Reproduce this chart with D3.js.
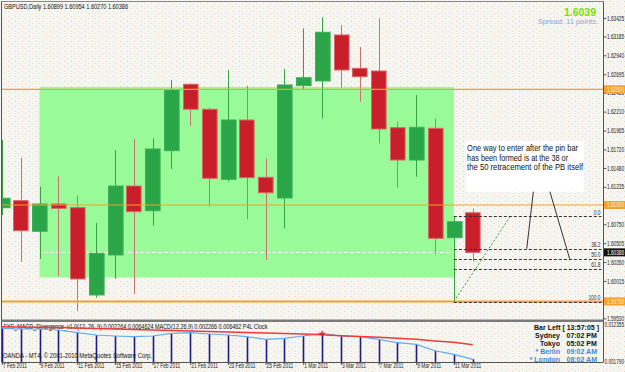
<!DOCTYPE html>
<html>
<head>
<meta charset="utf-8">
<script src="https://cdn.jsdelivr.net/npm/d3@7"></script>
<style>
body { margin: 0; background: #fff; }
svg { display: block; font-family: "Liberation Sans", Arial, sans-serif; }
</style>
</head>
<body>
<div id="chart"></div>
<script>
// ---- data ----
const dates = ["7 Feb 2011","8 Feb 2011","9 Feb 2011","10 Feb 2011","11 Feb 2011","14 Feb 2011","15 Feb 2011",
    "16 Feb 2011","17 Feb 2011","18 Feb 2011","21 Feb 2011","22 Feb 2011","23 Feb 2011","24 Feb 2011","25 Feb 2011",
    "28 Feb 2011","1 Mar 2011","2 Mar 2011","3 Mar 2011","4 Mar 2011","7 Mar 2011","8 Mar 2011","9 Mar 2011",
    "10 Mar 2011","11 Mar 2011","14 Mar 2011"];
const opens  = [1.60965,1.61056,1.60659,1.61013,1.60965,1.59833,1.60352,1.61246,1.60926,1.61704,1.62565,1.62241,1.61333,
    1.62102,1.61359,1.61091,1.62547,1.62608,1.63204,1.62772,1.62737,1.62002,1.61583,1.61994,1.60576,1.60899];
const highs  = [1.61843,1.61613,1.61237,1.61372,1.61121,1.60767,1.61713,1.61856,1.61860,1.62621,1.62575,1.62262,1.62750,
    1.62543,1.61600,1.62763,1.63291,1.63434,1.63334,1.63048,1.63421,1.62080,1.62426,1.62124,1.60857,1.60954];
const lows   = [1.60870,1.60265,1.60300,1.60079,1.59626,1.59798,1.60041,1.59846,1.60732,1.61467,1.62024,1.60978,1.61302,
    1.60815,1.60287,1.60698,1.62504,1.62124,1.62521,1.62339,1.61800,1.61224,1.61367,1.60365,1.59747,1.60270];
const closes = [1.61087,1.60667,1.61013,1.60957,1.60041,1.60374,1.61246,1.60913,1.61726,1.62491,1.62241,1.61346,1.62102,
    1.61354,1.61159,1.62556,1.62650,1.63239,1.62750,1.62663,1.61985,1.61583,1.62007,1.60568,1.60783,1.60386];

const macdMain   = [0.01113,0.01093,0.01093,0.01064,0.00987,0.00921,0.00893,0.00873,0.00893,0.00970,0.00987,0.00950,0.00921,
    0.00873,0.00798,0.00827,0.00893,0.00970,0.00893,0.00873,0.00798,0.00701,0.00655,0.00472,0.00370,0.002266];
const macdSignal = [0.01158,0.01150,0.01141,0.01135,0.01121,0.01107,0.01093,0.01078,0.01064,0.01050,0.01036,0.01021,0.01007,
    0.00993,0.00978,0.00964,0.00950,0.00930,0.00901,0.00878,0.00855,0.00827,0.00798,0.00750,0.00712,0.006462];
const divergenceBar = 17;

const priceTicks = [1.63425,1.63185,1.62940,1.62695,1.62455,1.62210,1.61965,1.61720,1.61480,1.61235,
    1.60750,1.60505,1.60260,1.60015,1.59530];
const markedLevels = [1.62500, 1.61000, 1.59750];
const bidPrice = 1.60386;
const macdTicks = [0.012355, 0.001790];

// consolidation box (bar index range and prices)
const zoneBars = [2, 24];
const zonePrices = [1.62530, 1.60060];

// fibonacci drawn on the pin bar
const fibHigh = 1.60857, fibLow = 1.59747;
const fibLevels = [0, 38.2, 50, 61.8, 100];
const fibBar = 24, fibEndBar = 27;

const noteLines = ["One way to enter after the pin bar", "has been formed is at the 38 or", "the 50 retracement of the PB itself"];
const noteWidths = [111, 101, 116];
const noteBars = [24.65, 30.9];
const notePrices = [1.61830, 1.61172];
const notePointers = [[28.22, 38.2, 27.87], [29.1, 50, 30.15]];

const header = "GBPUSD,Daily  1.60899 1.60954 1.60270 1.60386";
const indicatorLegend = "FXS_MACD_Divergence_v1.0(12, 26, 9) 0.002264 0.0064624  MACD(12,26,9) 0.002266 0.006462  P4L Clock";
const copyright = "OANDA - MT4, \u00a9 2001-2010 MetaQuotes Software Corp.";
const bidText = "1.6039";
const spreadText = "Spread: 11 points.";
const barLeft = "Bar Left [ 13:57:05 ]";
const clockCities = ["Sydney", "Tokyo", "* Berlin", "* London"];
const clockTimes = ["07:02 PM", "05:02 PM", "09:02 AM", "08:02 AM"];

// ---- layout ----
const W = 625, H = 372;
const left = 1.5, right = 603.5;
const mainTop = 1.5, mainBottom = 320;
const indTop = 322.5, indBottom = 362;

const svg = d3.select("#chart").append("svg")
    .attr("width", W).attr("height", H);

const defs = svg.append("defs");
const pat = defs.append("pattern").attr("id", "dots")
    .attr("width", 7).attr("height", 5).attr("patternUnits", "userSpaceOnUse");
pat.append("rect").attr("width", 7).attr("height", 5).attr("fill", "#f5f5f1");
pat.append("rect").attr("x", 1).attr("y", 1).attr("width", 1).attr("height", 1).attr("fill", "#f2d2aa");
pat.append("rect").attr("x", 4).attr("y", 3).attr("width", 1).attr("height", 1).attr("fill", "#efdcc4");

defs.append("clipPath").attr("id", "clipMain").append("rect")
    .attr("x", 2).attr("y", 2).attr("width", right - 2).attr("height", mainBottom - 2);
defs.append("clipPath").attr("id", "clipInd").append("rect")
    .attr("x", 2).attr("y", indTop).attr("width", right - 2).attr("height", indBottom - indTop);

svg.append("rect").attr("width", W).attr("height", H).attr("fill", "url(#dots)");

/* scales */
const x = d3.scaleLinear().domain([0, dates.length - 1]).range([1.9, 472.7]);
const bodyW = 14.6;
const y = d3.scaleLinear().domain([1.59509, 1.63638]).range([mainBottom, mainTop]);
const yI = d3.scaleLinear().domain([macdTicks[1], macdTicks[0]]).range([361, 324]);
const px = v => Math.round(v) + 0.5;

// squeeze small MetaTrader style text horizontally
function squeeze(sel, k) {
    sel.each(function() {
        const w = this.getComputedTextLength();
        d3.select(this).attr("textLength", w * k).attr("lengthAdjust", "spacingAndGlyphs");
    });
}
function fitTo(sel, w) {
    sel.attr("textLength", w).attr("lengthAdjust", "spacingAndGlyphs");
}

/* main pane */
const main = svg.append("g").attr("clip-path", "url(#clipMain)");

main.append("rect")
    .attr("x", x(zoneBars[0])).attr("y", y(zonePrices[0]))
    .attr("width", x(zoneBars[1]) - x(zoneBars[0]))
    .attr("height", y(zonePrices[1]) - y(zonePrices[0]))
    .attr("fill", "#98fb98");

main.append("line")
    .attr("x1", 2).attr("x2", right)
    .attr("y1", px(y(bidPrice))).attr("y2", px(y(bidPrice)))
    .attr("stroke", "#f4f4f4").attr("stroke-dasharray", "4,2");

const candles = dates.map((d, i) => ({i, o: opens[i], h: highs[i], l: lows[i], c: closes[i]}));

main.append("g").selectAll("line")
    .data(candles).join("line")
    .attr("x1", d => px(x(d.i))).attr("x2", d => px(x(d.i)))
    .attr("y1", d => y(d.h)).attr("y2", d => y(d.l))
    .attr("stroke", d => d.c >= d.o ? "#35a345" : "#c97272");

main.append("g").selectAll("rect")
    .data(candles).join("rect")
    .attr("x", d => Math.round(x(d.i) - bodyW / 2) + 0.5)
    .attr("y", d => y(Math.max(d.o, d.c)))
    .attr("width", bodyW)
    .attr("height", d => Math.max(1, Math.abs(y(d.o) - y(d.c))))
    .attr("fill", d => d.c >= d.o ? "#2aa548" : "#c81f2b")
    .attr("stroke", d => d.c >= d.o ? "#3cb058" : "#dc6464");

main.append("g").selectAll("line")
    .data(markedLevels).join("line")
    .attr("x1", 2).attr("x2", right)
    .attr("y1", d => y(d)).attr("y2", d => y(d))
    .attr("stroke", "#f5a02a")
    .attr("stroke-width", (d, i) => i === markedLevels.length - 1 ? 2 : 1.2);

// fibonacci
const fibPrice = lv => fibHigh - (fibHigh - fibLow) * lv / 100;
main.append("line")
    .attr("x1", x(fibBar)).attr("y1", y(fibLow))
    .attr("x2", x(fibEndBar)).attr("y2", y(fibHigh))
    .attr("stroke", "#3a9a40").attr("stroke-dasharray", "2,2");
main.append("g").selectAll("line")
    .data(fibLevels).join("line")
    .attr("x1", x(fibBar)).attr("x2", 601.5)
    .attr("y1", d => px(y(fibPrice(d)))).attr("y2", d => px(y(fibPrice(d))))
    .attr("stroke", "#333").attr("stroke-dasharray", "3,2");
const fibText = main.append("g").selectAll("text")
    .data(fibLevels).join("text")
    .attr("x", 600.5).attr("y", d => y(fibPrice(d)) - 1.5)
    .attr("text-anchor", "end")
    .attr("font-size", 6.5).attr("fill", "#333")
    .text(d => d.toFixed(1));
squeeze(fibText, 0.74);

// note box
main.append("rect")
    .attr("x", x(noteBars[0])).attr("y", y(notePrices[0]))
    .attr("width", x(noteBars[1]) - x(noteBars[0]))
    .attr("height", y(notePrices[1]) - y(notePrices[0]))
    .attr("fill", "#ffffff");
main.append("g").selectAll("text")
    .data(noteLines).join("text")
    .attr("x", x(noteBars[0]) + 1)
    .attr("y", (d, i) => y(notePrices[0]) + 10 + i * 9.7)
    .attr("font-size", 8.2).attr("fill", "#111")
    .attr("textLength", (d, i) => noteWidths[i]).attr("lengthAdjust", "spacingAndGlyphs")
    .text(d => d);
main.append("g").selectAll("line")
    .data(notePointers).join("line")
    .attr("x1", d => x(d[0])).attr("y1", y(notePrices[1]))
    .attr("x2", d => x(d[2])).attr("y2", d => y(fibPrice(d[1])))
    .attr("stroke", "#333");

/* top texts */
fitTo(svg.append("text").attr("x", 4).attr("y", 8.5)
    .attr("font-size", 6.5).attr("fill", "#111").text(header), 124);
svg.append("text").attr("x", 596).attr("y", 15.5).attr("text-anchor", "end")
    .attr("font-size", 10.5).attr("font-weight", "bold").attr("fill", "#77e000").text(bidText);
svg.append("text").attr("x", 598).attr("y", 24).attr("text-anchor", "end")
    .attr("font-size", 7.5).attr("fill", "#8aa8d6").text(spreadText);

/* price axis */
const yAxis = svg.append("g")
    .attr("transform", `translate(${right},0)`)
    .call(d3.axisRight(y).tickValues(priceTicks).tickFormat(d3.format(".5f")).tickSize(3).tickPadding(0.5));
yAxis.select(".domain").remove();
yAxis.selectAll("line").attr("stroke", "#555");
yAxis.selectAll("text").attr("font-size", 6.5).attr("fill", "#222")
    .attr("font-family", "Liberation Sans, Arial, sans-serif");
squeeze(yAxis.selectAll("text"), 0.73);

const boxed = markedLevels.map(v => ({v, fill: "#f5a02a", ink: "#fff6dc"}))
    .concat([{v: bidPrice, fill: "#111", ink: "#fff"}]);
const tags = svg.append("g").selectAll("g").data(boxed).join("g")
    .attr("transform", d => `translate(${right},${y(d.v)})`);
tags.append("rect").attr("x", 0.5).attr("y", -4).attr("width", 21.5).attr("height", 8)
    .attr("fill", d => d.fill);
const tagText = tags.append("text").attr("x", 3.5).attr("y", 2.5)
    .attr("font-size", 6.5).attr("fill", d => d.ink).text(d => d.v.toFixed(5));
squeeze(tagText, 0.73);

/* indicator pane */
const ind = svg.append("g");
fitTo(ind.append("text").attr("x", 3.5).attr("y", 328.5)
    .attr("font-size", 6.5).attr("fill", "#111").text(indicatorLegend), 264);

const indPlot = ind.append("g").attr("clip-path", "url(#clipInd)");
indPlot.append("g").selectAll("line")
    .data(macdMain).join("line")
    .attr("x1", (d, i) => px(x(i))).attr("x2", (d, i) => px(x(i)))
    .attr("y1", d => yI(d)).attr("y2", indBottom)
    .attr("stroke", "#1c1c84").attr("stroke-width", 1.6);
indPlot.append("path")
    .datum(macdMain)
    .attr("d", d3.line().x((d, i) => x(i)).y(d => yI(d)))
    .attr("fill", "none").attr("stroke", "#62aaf0").attr("stroke-width", 1.2);
indPlot.append("path")
    .datum(macdSignal)
    .attr("d", d3.line().x((d, i) => x(i)).y(d => yI(d)))
    .attr("fill", "none").attr("stroke", "#f03a3a").attr("stroke-width", 1.5);
const ax = x(divergenceBar), ay = yI(macdSignal[divergenceBar]);
indPlot.append("path")
    .attr("d", `M${ax},${ay - 4}V${ay + 0.5}M${ax - 2.5},${ay - 2}L${ax},${ay + 0.5}L${ax + 2.5},${ay - 2}`)
    .attr("fill", "none").attr("stroke", "#e01818").attr("stroke-width", 1.2);

fitTo(ind.append("text").attr("x", 3).attr("y", 357.5)
    .attr("font-size", 6.5).attr("fill", "#111").text(copyright), 149);

ind.append("text").attr("x", 599).attr("y", 329.5).attr("text-anchor", "end")
    .attr("font-size", 7).attr("font-weight", "bold").attr("fill", "#111").text(barLeft);
ind.append("g").selectAll("text").data(clockCities).join("text")
    .attr("x", 560).attr("y", (d, i) => 338 + i * 7.9).attr("text-anchor", "end")
    .attr("font-size", 7).attr("font-weight", "bold")
    .attr("fill", (d, i) => i < 2 ? "#111" : "#3f86d8").text(d => d);
ind.append("g").selectAll("text").data(clockTimes).join("text")
    .attr("x", 566.5).attr("y", (d, i) => 338 + i * 7.9)
    .attr("font-size", 7).attr("font-weight", "bold")
    .attr("fill", (d, i) => i < 2 ? "#111" : "#3f86d8").text(d => d);

const iAxis = svg.append("g")
    .attr("transform", `translate(${right},0)`)
    .call(d3.axisRight(yI).tickValues(macdTicks).tickFormat(d3.format(".6f")).tickSize(0).tickPadding(1));
iAxis.select(".domain").remove();
iAxis.selectAll("text").attr("font-size", 6.5).attr("fill", "#222")
    .attr("font-family", "Liberation Sans, Arial, sans-serif");
squeeze(iAxis.selectAll("text"), 0.72);

/* date axis */
const xAxis = svg.append("g")
    .attr("transform", `translate(0,${indBottom})`)
    .call(d3.axisBottom(x).tickValues(d3.range(0, dates.length, 2)).tickFormat(i => dates[i]).tickSize(3));
xAxis.select(".domain").remove();
xAxis.selectAll("line").attr("stroke", "#444");
xAxis.selectAll("text").attr("text-anchor", "start").attr("dx", 0.5).attr("y", 2).attr("dy", "0.6em")
    .attr("font-size", 6.5).attr("fill", "#222")
    .attr("font-family", "Liberation Sans, Arial, sans-serif");
squeeze(xAxis.selectAll("text"), 0.74);

/* frame */
const frame = svg.append("g").attr("fill", "none");
frame.append("line").attr("x1", left).attr("x2", right).attr("y1", mainTop).attr("y2", mainTop).attr("stroke", "#888");
frame.append("line").attr("x1", left).attr("x2", left).attr("y1", mainTop).attr("y2", indBottom).attr("stroke", "#555");
frame.append("line").attr("x1", right).attr("x2", right).attr("y1", mainTop).attr("y2", indBottom).attr("stroke", "#555");
frame.append("rect").attr("x", left).attr("y", mainBottom - 0.5).attr("width", right - left).attr("height", 2.5)
    .attr("fill", "#7a7a7a");
frame.append("line").attr("x1", left).attr("x2", right).attr("y1", indBottom + 0.5).attr("y2", indBottom + 0.5)
    .attr("stroke", "#555");
</script>
</body>
</html>
